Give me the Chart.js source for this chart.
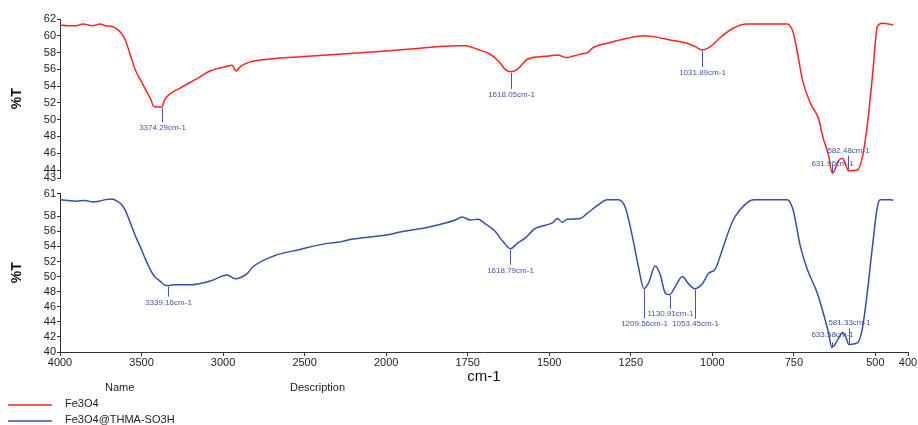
<!DOCTYPE html>
<html>
<head>
<meta charset="utf-8">
<script src="https://cdn.jsdelivr.net/npm/chart.js@4/dist/chart.umd.min.js"></script>
<style>
  html, body { margin: 0; padding: 0; background: #fff; }
  #wrap { position: relative; width: 918px; height: 425px; overflow: hidden; font-family: "Liberation Sans", Arial, sans-serif; color: #222; }
  .panel { position: absolute; left: 0; width: 918px; }
  #topPanel { top: 0; height: 186px; }
  #bottomPanel { top: 186px; height: 200px; }
  .txt { position: absolute; font-size: 11px; line-height: 13px; white-space: nowrap; }
  #swatches { position: absolute; left: 0; top: 398px; }
</style>
</head>
<body>
<div id="wrap">
  <div class="panel" id="topPanel"><canvas id="topChart"></canvas></div>
  <div class="panel" id="bottomPanel"><canvas id="bottomChart"></canvas></div>
  <div class="txt" style="left:105px; top:381px;">Name</div>
  <div class="txt" style="left:290px; top:381px;">Description</div>
  <canvas id="swatches" width="60" height="27"></canvas>
  <div class="txt" style="left:65px; top:397px;">Fe3O4</div>
  <div class="txt" style="left:65px; top:413px;">Fe3O4@THMA-SO3H</div>
</div>
<script>
// ---- Spectra: wavenumber (cm-1) and transmittance (%T) ----
const fe3o4Wavenumber = [
  4000, 3950, 3900, 3860, 3800, 3755, 3720, 3680, 3650, 3620, 3600, 3570, 3540, 3500, 3470, 3440,
  3430, 3400, 3374.29, 3360, 3330, 3260, 3160, 3080, 2988, 2945, 2920, 2896, 2847, 2773, 2528, 2221,
  2000, 1896, 1788, 1758, 1742, 1721, 1681, 1656, 1635, 1618.05, 1598, 1567, 1528, 1500, 1475, 1445,
  1426, 1405, 1383, 1365, 1313, 1261, 1212, 1181, 1129, 1077, 1052, 1031.89, 1006, 975, 936, 893,
  853, 770, 752, 739, 724, 700, 690, 675, 660, 644, 631.96, 613, 601, 590, 582.48, 555, 540, 525,
  509, 494, 479, 445
];
const fe3o4T = [
  61.3, 61.2, 61.2, 61.4, 61.2, 61.4, 61.2, 61.1, 60.8, 60.2, 59.5, 57.8, 56.0, 54.5, 53.4, 52.3,
  51.7, 51.5, 51.5, 52.3, 53.0, 53.8, 54.9, 55.8, 56.3, 56.5, 55.8, 56.3, 56.8, 57.1, 57.5, 57.9,
  58.2, 58.5, 58.8, 58.8, 58.7, 58.4, 57.8, 57.0, 56.0, 55.7, 56.0, 57.2, 57.5, 57.6, 57.7, 57.4,
  57.6, 57.8, 58.0, 58.6, 59.2, 59.7, 60.0, 59.9, 59.5, 59.1, 58.7, 58.3, 58.7, 59.8, 60.9, 61.4,
  61.4, 61.4, 60.4, 58.0, 54.8, 52.0, 51.3, 50.2, 47.8, 45.8, 43.6, 45.1, 45.4, 44.5, 43.9, 44.0,
  45.5, 49.3, 55.2, 61.1, 61.5, 61.3
];
const fe3o4Peaks = [3374.29, 1618.05, 1031.89, 631.96, 582.48];

const thmaWavenumber = [
  4000, 3950, 3900, 3850, 3800, 3760, 3720, 3680, 3650, 3620, 3600, 3570, 3540, 3509, 3478, 3448,
  3420, 3387, 3360, 3339.16, 3300, 3202, 3080, 2975, 2926, 2853, 2816, 2693, 2528, 2362, 2282, 2221,
  2000, 1957, 1865, 1788, 1767, 1742, 1718, 1696, 1666, 1641, 1618.79, 1598, 1574, 1543, 1512, 1488,
  1475, 1460, 1445, 1405, 1383, 1353, 1322, 1288, 1267, 1245, 1227, 1209.56, 1196, 1175, 1160, 1144,
  1130.91, 1113, 1092, 1074, 1053.45, 1031, 1012, 991, 966, 936, 893, 874, 770, 752, 730, 709,
  678, 660, 644, 633.58, 613, 601, 590, 581.33, 555, 540, 525, 509, 494, 485, 454, 445
];
const thmaT = [
  60.2, 60.1, 60.0, 60.1, 59.9, 60.0, 60.2, 60.3, 60.0, 59.5, 58.8, 57.2, 55.5, 54.0, 52.4, 51.0,
  50.0, 49.4, 48.9, 48.8, 48.9, 48.9, 49.4, 50.2, 49.7, 50.4, 51.3, 52.7, 53.6, 54.4, 54.6, 54.9,
  55.5, 55.9, 56.6, 57.5, 57.9, 57.5, 57.6, 57.0, 56.0, 54.6, 53.7, 54.4, 55.1, 56.4, 56.8, 57.2,
  57.7, 57.2, 57.6, 57.7, 58.4, 59.4, 60.2, 60.2, 59.2, 55.3, 51.4, 48.4, 49.1, 51.4, 50.3, 47.8,
  47.6, 48.7, 50.0, 49.1, 48.4, 49.0, 50.4, 51.0, 54.0, 57.5, 59.8, 60.2, 60.2, 58.8, 54.0, 51.0,
  47.8, 45.2, 42.6, 40.6, 41.8, 42.6, 41.9, 41.0, 41.2, 43.1, 47.8, 54.0, 59.2, 60.2, 60.2, 60.1
];
const thmaPeaks = [3339.16, 1618.79, 1209.56, 1130.91, 1053.45, 633.58, 581.33];

// ---- Axis ticks ----
const wavenumberTicks = [4000, 3500, 3000, 2500, 2000, 1750, 1500, 1250, 1000, 750, 500, 400];
const fe3o4TTicks = [43, 44, 46, 48, 50, 52, 54, 56, 58, 60, 62];
const thmaTTicks = [40, 42, 44, 46, 48, 50, 52, 54, 56, 58, 61];

const RED = '#ff2222';
const BLUE = '#3a4cab';
const LABEL_BLUE = '#4455a8';

// Wavenumber axis: high end on the left, region below the break drawn at double scale.
const WN_HIGH = 4000, WN_LOW = 400, WN_BREAK = 2000, WN_EXPAND = 2;
class BrokenWavenumberScale extends Chart.LinearScale {
  _span() { return (WN_HIGH - WN_BREAK) + WN_EXPAND * (WN_BREAK - WN_LOW); }
  _pos(v) { return v >= WN_BREAK ? (WN_HIGH - v) : (WN_HIGH - WN_BREAK) + WN_EXPAND * (WN_BREAK - v); }
  buildTicks() { return wavenumberTicks.map(v => ({ value: v })); }
  getPixelForValue(v) { return this.left + (this._pos(v) / this._span()) * this.width; }
  getValueForPixel(px) {
    const t = (px - this.left) / this.width * this._span();
    return t <= (WN_HIGH - WN_BREAK) ? WN_HIGH - t : WN_BREAK - (t - (WN_HIGH - WN_BREAK)) / WN_EXPAND;
  }
}
BrokenWavenumberScale.id = 'brokenWavenumber';
Chart.register(BrokenWavenumberScale);

Chart.defaults.font.family = '"Liberation Sans", Arial, sans-serif';
Chart.defaults.font.size = 11;
Chart.defaults.color = '#222';

function valueAt(points, w) {
  for (let i = 0; i < points.length - 1; i++) {
    const a = points[i], b = points[i + 1];
    if ((w <= a.x && w >= b.x)) {
      const f = (a.x - w) / (a.x - b.x || 1);
      return a.y + f * (b.y - a.y);
    }
  }
  return points[points.length - 1].y;
}

// Draws a peak marker: a short tick from the curve and the wavenumber text.
const peakLabels = {
  id: 'peakLabels',
  afterDatasetsDraw(chart, args, opts) {
    const { ctx } = chart;
    const xs = chart.scales.x, ys = chart.scales.y;
    const pts = chart.data.datasets[0].data;
    ctx.save();
    ctx.strokeStyle = LABEL_BLUE;
    ctx.fillStyle = LABEL_BLUE;
    ctx.lineWidth = 1;
    ctx.font = '8px "Liberation Sans", Arial, sans-serif';
    ctx.textAlign = 'center';
    ctx.textBaseline = 'middle';
    opts.peaks.forEach((w, i) => {
      const px = Math.round(xs.getPixelForValue(w)) + 0.5;
      const py = ys.getPixelForValue(valueAt(pts, w));
      const [lineLen, textOff] = opts.offsets[i];
      const dir = Math.sign(lineLen);
      ctx.beginPath();
      ctx.moveTo(px, py + dir * 1);
      ctx.lineTo(px, py + lineLen);
      ctx.stroke();
      ctx.fillText(w.toFixed(2) + 'cm-1', px, py + textOff);
    });
    ctx.restore();
  }
};

function makeChart(canvasId, opts) {
  const data = opts.wn.map((w, i) => ({ x: w, y: opts.t[i] }));
  return new Chart(document.getElementById(canvasId), {
    type: 'line',
    data: {
      datasets: [{
        label: opts.label,
        data,
        borderColor: opts.color,
        borderWidth: 1.5,
        pointRadius: 0,
        fill: false,
        cubicInterpolationMode: 'monotone'
      }]
    },
    options: {
      responsive: true,
      maintainAspectRatio: false,
      animation: false,
      layout: { padding: { left: 0, right: 10, top: opts.padTop, bottom: opts.padBottom } },
      plugins: {
        legend: { display: false },
        tooltip: { enabled: false },
        peakLabels: { peaks: opts.peaks, offsets: opts.offsets }
      },
      scales: {
        x: {
          type: 'brokenWavenumber',
          min: WN_LOW, max: WN_HIGH,
          display: opts.showX,
          grid: { display: true, drawOnChartArea: false, drawTicks: true, tickLength: 4, color: '#333' },
          border: { display: true, color: '#333', width: 1 },
          ticks: { autoSkip: false, maxRotation: 0, padding: 0, color: '#222', font: { size: 11 }, callback: v => String(v) },
          title: { display: true, text: 'cm-1', color: '#111', font: { size: 15 }, padding: { top: 0, bottom: 0 } },
          afterFit: s => { if (opts.showX) s.height = 34; }
        },
        y: {
          min: opts.yTicks[0], max: opts.yTicks[opts.yTicks.length - 1],
          afterBuildTicks: s => { s.ticks = opts.yTicks.map(v => ({ value: v })); },
          afterFit: s => { s.width = 60; },
          grid: { display: true, drawOnChartArea: false, drawTicks: true, tickLength: 3, color: '#333' },
          border: { display: true, color: '#333', width: 1 },
          ticks: { autoSkip: false, padding: 1, color: '#222', font: { size: 11 } },
          title: { display: true, text: '%T', color: '#111', font: { size: 14, weight: 'bold' }, padding: { top: 9, bottom: 0 } }
        }
      }
    },
    plugins: [peakLabels]
  });
}

makeChart('topChart', {
  wn: fe3o4Wavenumber, t: fe3o4T, label: 'Fe3O4', color: RED,
  peaks: fe3o4Peaks,
  offsets: [[15, 21], [17, 23], [17, 23], [-8, -10], [-15, -20]],
  yTicks: fe3o4TTicks, showX: false, padTop: 19, padBottom: 5
});

makeChart('bottomChart', {
  wn: thmaWavenumber, t: thmaT, label: 'Fe3O4@THMA-SO3H', color: BLUE,
  peaks: thmaPeaks,
  offsets: [[11, 17], [16, 22], [30, 35], [14, 19], [30, 35], [-5, -13], [-16, -22]],
  yTicks: thmaTTicks, showX: true, padTop: 5, padBottom: 0
});

// Legend line samples next to the sample names
(function drawSwatches() {
  const c = document.getElementById('swatches').getContext('2d');
  [[RED, 7], [BLUE, 23]].forEach(([col, y]) => {
    c.strokeStyle = col;
    c.lineWidth = 1.6;
    c.beginPath();
    c.moveTo(8, y);
    c.lineTo(52, y);
    c.stroke();
  });
})();
</script>
</body>
</html>
